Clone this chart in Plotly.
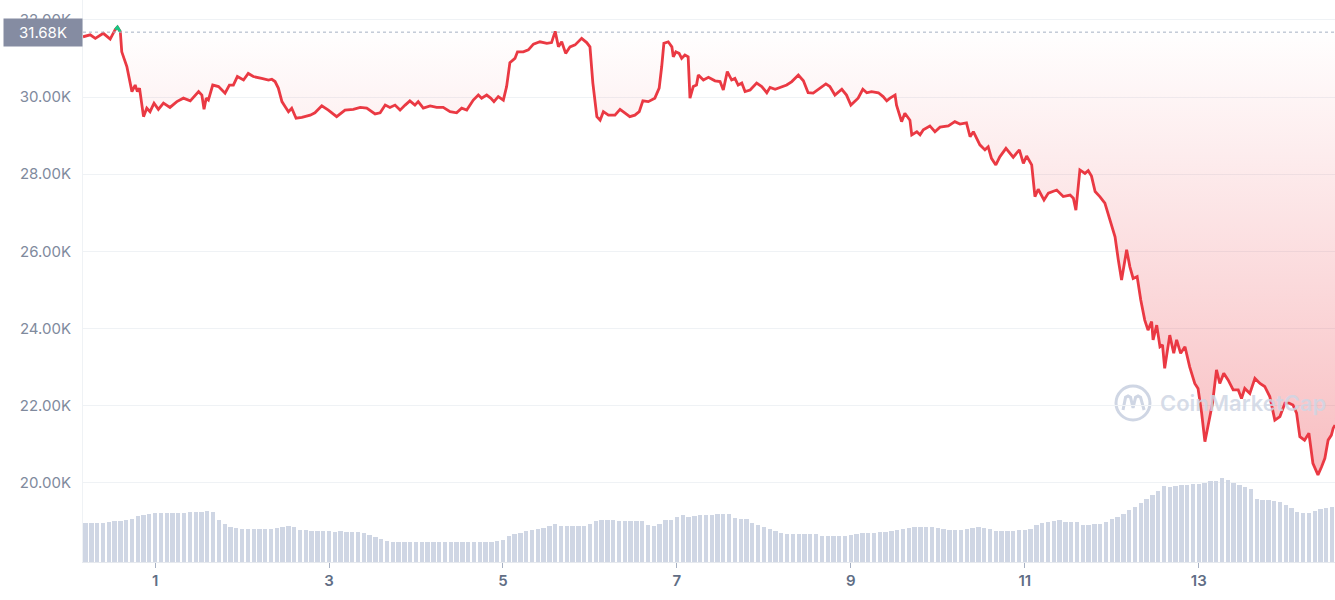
"""Graphique prix BTC (style CoinMarketCap) avec volume."""
import pandas as pd
import plotly.graph_objects as go

COLOR_DOWN = "#ea3943"
COLOR_UP = "#16c784"
COLOR_VOL = "#cfd6e4"
COLOR_GRID = "#eff2f5"
COLOR_TEXT = "#808a9d"

# Prix (heures depuis le 31/05/2022 00:00, USD)
price_hours = [
    4.1, 6.1, 7.5, 9.7, 11.6, 13.0, 13.6, 14.4, 14.8, 16.2, 17.6, 18.5, 19.1, 19.7,
    20.8, 21.7, 22.6, 23.7, 24.9, 26.3, 28.1, 30.0, 31.8, 33.7, 36.0, 36.9, 37.5,
    38.1, 38.7, 39.9, 41.5, 42.4, 43.3, 44.5, 45.6, 46.7, 48.4, 49.7, 51.1, 53.4,
    55.3, 56.2, 57.1, 58.0, 59.0, 59.9, 60.8, 61.7, 62.9, 64.5, 66.8, 68.1, 70.0,
    71.8, 74.1, 76.4, 78.7, 80.6, 82.4, 84.7, 86.1, 87.5, 88.8, 90.2, 91.6, 93.0,
    94.3, 95.7, 96.6, 98.0, 99.9, 101.7, 103.5, 105.4, 107.2, 108.6, 110.0, 111.8,
    113.2, 114.1, 115.5, 116.6, 117.5, 118.7, 120.1, 121.0, 121.9, 123.3, 124.0,
    125.6, 127.0, 128.4, 130.2, 132.1, 133.4, 134.4, 135.3, 136.2, 137.3, 138.5,
    139.9, 141.7, 143.1, 144.0, 144.8, 145.9, 146.8, 147.7, 149.1, 150.9, 152.3,
    153.7, 155.0, 156.4, 157.6, 158.6, 160.1, 161.9, 163.1, 163.8, 164.4, 165.6,
    166.6, 167.0, 167.7, 168.6, 169.3, 170.2, 171.1, 171.6, 172.5, 173.4, 173.9,
    175.3, 176.7, 178.5, 179.9, 180.8, 181.9, 183.1, 184.0, 184.9, 185.9, 186.8,
    188.2, 190.0, 191.4, 192.8, 193.7, 195.1, 196.9, 198.3, 199.7, 201.5, 202.9,
    204.2, 205.6, 207.0, 207.9, 209.1, 210.2, 211.6, 213.5, 214.8, 216.0, 217.1,
    218.0, 219.3, 220.4, 221.7, 223.6, 224.9, 225.9, 226.8, 228.2, 228.6, 230.0,
    230.9, 232.3, 232.8, 234.2, 235.1, 236.0, 237.8, 239.2, 240.6, 242.9, 244.7,
    246.1, 247.9, 248.9, 249.8, 251.6, 253.0, 253.9, 254.8, 256.0, 257.1, 258.8,
    260.8, 262.5, 263.6, 264.5, 265.9, 266.8, 267.7, 269.3, 270.5, 272.8, 274.6,
    276.5, 277.4, 278.1, 279.2, 280.6, 281.5, 282.4, 283.4, 284.7, 286.1, 287.0,
    288.0, 288.9, 289.8, 290.7, 292.1, 293.0, 293.9, 295.0, 296.0, 297.1, 298.0,
    299.0, 299.4, 300.4, 301.3, 302.0, 302.6, 304.0, 305.1, 305.9, 307.0, 308.2,
    309.5, 310.9, 311.8, 312.8, 313.7, 314.6, 315.8, 316.9, 317.8, 318.9, 320.1,
    321.5, 322.9, 323.8, 324.7, 326.1, 327.5, 328.9, 330.2, 331.6, 333.0, 334.4,
    335.8, 336.9, 338.0, 339.0, 339.9, 341.2, 342.4, 343.5, 344.9, 345.9, 346.8,
    347.7, 348.6, 349.1, 349.6,
]
price_usd = [
    31560, 31610, 31520, 31650, 31500, 31750, 31810, 31690, 31170, 30790, 30140, 30310, 30140, 30230,
    29490, 29710, 29620, 29840, 29680, 29840, 29730, 29880, 29970, 29900, 30140, 30050, 29680,
    29970, 29920, 30310, 30270, 30180, 30100, 30310, 30310, 30530, 30440, 30610, 30530, 30480,
    30440, 30460, 30400, 30230, 29880, 29750, 29620, 29710, 29450, 29470, 29530, 29590, 29770,
    29660, 29490, 29660, 29680, 29730, 29710, 29560, 29590, 29790, 29730, 29790, 29660, 29790,
    29900, 29790, 29880, 29710, 29770, 29730, 29730, 29620, 29590, 29710, 29660, 29920,
    30050, 29970, 30050, 29970, 29880, 30010, 29920, 30270, 30890, 31000, 31170,
    31170, 31220, 31370, 31430, 31390, 31410, 31700, 31300, 31430, 31130, 31300,
    31350, 31520, 31410, 31300, 30360, 29490, 29400, 29620, 29530, 29530, 29680,
    29580, 29490, 29530, 29620, 29900, 29880, 29970, 30230, 30790, 31390, 31430,
    31300, 31040, 31170, 31130, 31000, 31090, 31040, 29970, 30270, 30310, 30570,
    30440, 30510, 30420, 30400, 30180, 30660, 30440, 30480, 30310, 30360, 30140,
    30180, 30360, 30270, 30110, 30250, 30200, 30270, 30310, 30400, 30570, 30420,
    30110, 30100, 30200, 30250, 30340, 30270, 30050, 30200, 30050, 29790, 29880,
    29970, 30200, 30110, 30140, 30110, 30010, 29900, 29970, 30050, 29790, 29360,
    29580, 29400, 29020, 29100, 29020, 29150, 29250, 29100, 29220, 29250, 29360,
    29300, 29330, 28970, 29100, 28760, 28630, 28710, 28410, 28240, 28450, 28670,
    28440, 28630, 28280, 28470, 28240, 27420, 27610, 27330, 27510, 27590, 27420,
    27460, 27380, 27070, 28110, 28020, 28090, 27950, 27550, 27420, 27250, 26990,
    26640, 26380, 25780, 25260, 26040, 25600, 25300, 25350, 24740, 24220, 23960,
    24180, 23710, 24090, 23530, 23580, 22970, 23830, 23360, 23710, 23360, 23530,
    23010, 22580, 22450, 21810, 21070, 21460, 22070, 22930, 22580, 22840, 22670,
    22410, 22410, 22190, 22450, 22320, 22710, 22580, 22500, 22240, 21630, 21720,
    22070, 22070, 22020, 21810, 21200, 21110, 21290, 20510, 20210, 20420, 20640,
    21110, 21240, 21420, 21500,
]
price_ref = 31680  # prix d'ouverture de la période

# Volume 24h (Md USD), une barre toutes les 96 minutes à partir du 31/05 04:48
volume_bn = [
    39, 39, 39, 39, 40, 41, 41, 42, 43, 46, 47, 48, 49, 49, 49, 49, 49, 49, 50, 50,
    50, 51, 50, 42, 38, 35, 34, 33, 33, 33, 33, 33, 33, 34, 35, 36, 35, 32, 32, 31,
    31, 31, 31, 30, 31, 30, 30, 30, 29, 27, 25, 23, 21, 20, 20, 20, 20, 20, 20, 20,
    20, 20, 20, 20, 20, 20, 20, 20, 20, 20, 20, 21, 22, 26, 28, 29, 31, 32, 33, 34,
    36, 38, 36, 36, 36, 36, 36, 38, 41, 42, 42, 42, 41, 41, 41, 41, 41, 37, 36, 38,
    42, 42, 45, 47, 45, 46, 47, 47, 47, 48, 48, 48, 44, 43, 43, 39, 37, 35, 33, 31,
    29, 28, 28, 28, 28, 28, 28, 26, 26, 26, 26, 26, 27, 28, 29, 29, 29, 30, 30, 31,
    32, 33, 34, 35, 35, 35, 35, 34, 33, 32, 32, 32, 33, 34, 35, 34, 33, 31, 31, 31,
    31, 32, 32, 33, 37, 39, 40, 41, 42, 40, 40, 40, 37, 37, 38, 38, 40, 43, 45, 48,
    52, 55, 59, 63, 67, 71, 76, 75, 76, 77, 77, 78, 78, 79, 81, 81, 84, 82, 79, 77,
    75, 73, 63, 62, 62, 61, 60, 57, 54, 50, 49, 49, 51, 53, 54, 55,
]

y_ticks = [20000, 22000, 24000, 26000, 28000, 30000, 32000]

base = pd.Timestamp("2022-05-31")
times = base + pd.to_timedelta(price_hours, unit="h")
vol_times = pd.date_range("2022-05-31 04:48", periods=len(volume_bn), freq="96min")
price = pd.Series(price_usd, index=times)
up = price.where(price >= price_ref)

fig = go.Figure()

# Volume
fig.add_trace(go.Bar(
    x=vol_times, y=volume_bn, yaxis="y2",
    marker=dict(color=COLOR_VOL, line_width=0),
    width=96 * 60 * 1000 * 0.75,
    hoverinfo="skip",
))

# Ligne de référence invisible pour le remplissage
fig.add_trace(go.Scatter(
    x=times, y=[price_ref] * len(times),
    mode="lines", line=dict(width=0), hoverinfo="skip",
))

# Prix
fig.add_trace(go.Scatter(
    x=times, y=price_usd,
    mode="lines", name="Prix",
    line=dict(color=COLOR_DOWN, width=2.8),
    fill="tonexty",
    fillgradient=dict(
        type="vertical",
        colorscale=[[0, "rgba(234,57,67,0.33)"], [1, "rgba(234,57,67,0)"]],
    ),
))
fig.add_trace(go.Scatter(
    x=times, y=up.values,
    mode="lines", line=dict(color=COLOR_UP, width=2.8),
    connectgaps=False, hoverinfo="skip",
))

fig.add_hline(y=price_ref, line=dict(color="#a6b0c3", width=1, dash="dot"))

# Étiquette du prix de référence
fig.add_annotation(
    x=0, xref="paper", y=price_ref, yref="y",
    xanchor="right", yanchor="middle",
    text=f"{price_ref / 1000:.2f}K",
    font=dict(color="white", size=15, family="Inter"),
    bgcolor="#858ca2", width=70, borderpad=4, showarrow=False,
)

# Filigrane
fig.add_shape(type="circle", xref="paper", yref="paper",
              x0=0.8251, x1=0.8522, y0=0.2527, y1=0.3132,
              line=dict(color=COLOR_VOL, width=3), layer="below")
fig.add_shape(type="path", xref="paper", yref="paper",
              path="M 0.8307,0.2705 L 0.8327,0.2930 L 0.8347,0.2954 L 0.8367,0.2930 "
                   "L 0.8387,0.2740 L 0.8407,0.2930 L 0.8427,0.2954 L 0.8447,0.2930 L 0.8475,0.2705",
              line=dict(color=COLOR_VOL, width=3), layer="below")
fig.add_annotation(
    x=0.9265, xref="paper", y=0.2829, yref="paper",
    xanchor="center", yanchor="middle",
    text="CoinMarketCap", showarrow=False,
    font=dict(color="rgba(207,214,228,0.85)", size=22, family="Inter", weight=600),
)

fig.update_layout(
    width=1335, height=600,
    margin=dict(l=83, r=0, t=0, b=38),
    plot_bgcolor="white", paper_bgcolor="white",
    showlegend=False, bargap=0,
    font=dict(family="Inter", color=COLOR_TEXT),
    xaxis=dict(
        type="date",
        range=[times[0], times[-1]],
        tick0="2022-06-01", dtick=2 * 86400000, tickformat="%-d",
        showgrid=False, showline=True, linecolor="#e6e9ee",
        ticks="outside", ticklen=5, tickcolor="#a6b0c3",
        tickfont=dict(size=15, color="#616e85", weight=600),
    ),
    yaxis=dict(
        range=[17953, 32513],
        tickvals=y_ticks,
        ticktext=[f"{v / 1000:.2f}K" for v in y_ticks],
        showgrid=True, gridcolor=COLOR_GRID,
        showline=True, linecolor=COLOR_GRID,
        zeroline=False, ticks="", ticklabelstandoff=8,
        tickfont=dict(size=15, color=COLOR_TEXT),
    ),
    yaxis2=dict(
        overlaying="y", range=[0, 562], visible=False, showgrid=False,
    ),
)

fig.write_html("out.html", config={"displayModeBar": False},
               post_script="document.body.style.margin='0';")
